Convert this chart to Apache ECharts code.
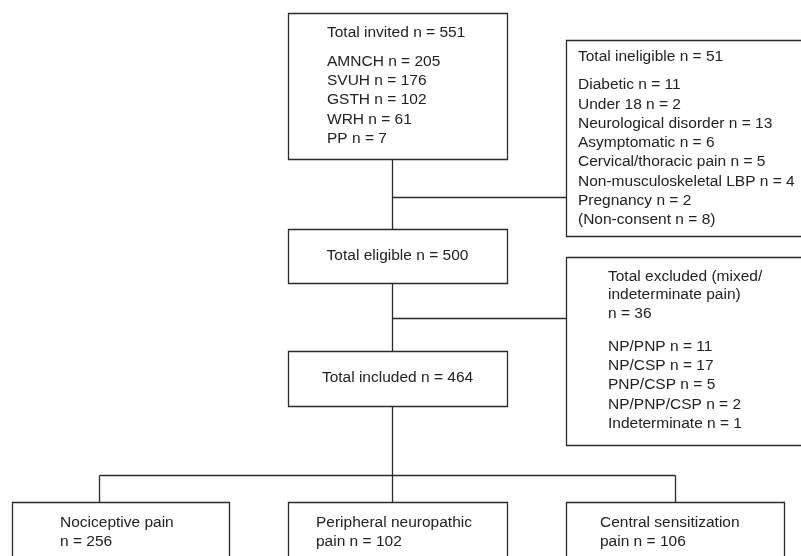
<!DOCTYPE html>
<html>
<head>
<meta charset="utf-8">
<style>
html,body{margin:0;padding:0;background:#fff;}
#chart{width:801px;height:556px;}
</style>
<script src="https://cdn.jsdelivr.net/npm/echarts@6/dist/echarts.min.js"></script>
</head>
<body>
<div id="chart"></div>
<script>
// ---- Content (text / values) ----
const invitedHeader = ["Total invited n = 551"];
const invitedSites = ["AMNCH n = 205", "SVUH n = 176", "GSTH n = 102", "WRH n = 61", "PP n = 7"];
const ineligibleHeader = ["Total ineligible n = 51"];
const ineligibleReasons = ["Diabetic n = 11", "Under 18 n = 2", "Neurological disorder n = 13", "Asymptomatic n = 6",
  "Cervical/thoracic pain n = 5", "Non-musculoskeletal LBP n = 4", "Pregnancy n = 2", "(Non-consent n = 8)"];
const eligibleText = ["Total eligible n = 500"];
const excludedHeader = ["Total excluded (mixed/", "indeterminate pain)", "n = 36"];
const excludedGroups = ["NP/PNP n = 11", "NP/CSP n = 17", "PNP/CSP n = 5", "NP/PNP/CSP n = 2", "Indeterminate n = 1"];
const includedText = ["Total included n = 464"];
const outcomeNociceptive = ["Nociceptive pain", "n = 256"];
const outcomePeripheral = ["Peripheral neuropathic", "pain n = 102"];
const outcomeCentral = ["Central sensitization", "pain n = 106"];

// ---- Layout (positions in layout units, mapped through hidden axes) ----
const layout = {
  boxes: [
    [288, 13, 507, 159],
    [566, 40, 805, 236],
    [288, 229, 507, 283],
    [566, 257, 805, 445],
    [288, 351, 507, 406],
    [12, 502, 229, 565],
    [288, 502, 507, 565],
    [566, 502, 784, 565]
  ],
  links: [
    [392, 159, 392, 229],
    [392, 197, 566, 197],
    [392, 283, 392, 351],
    [392, 318, 566, 318],
    [392, 406, 392, 502],
    [99, 475, 675, 475],
    [99, 475, 99, 502],
    [675, 475, 675, 502]
  ],
  // [lines, x, yFirst, step, align]
  blocks: [
    [invitedHeader, 327, 33, 19.2, 'left'],
    [invitedSites, 327, 62, 19.1, 'left'],
    [ineligibleHeader, 578, 57, 19.2, 'left'],
    [ineligibleReasons, 578, 85, 19.25, 'left'],
    [eligibleText, 397.5, 256, 19, 'center'],
    [excludedHeader, 608, 277, 18.2, 'left'],
    [excludedGroups, 608, 347, 19.1, 'left'],
    [includedText, 397.5, 378, 19, 'center'],
    [outcomeNociceptive, 60, 523, 19, 'left'],
    [outcomePeripheral, 316, 523, 19, 'left'],
    [outcomeCentral, 600, 523, 19, 'left']
  ]
};

const textItems = [];
layout.blocks.forEach(function (b) {
  b[0].forEach(function (t, i) {
    textItems.push({ value: [b[1], b[2] + i * b[3]], label: t, align: b[4] });
  });
});

const LINE = '#2a2a2a';
const TEXT = '#222';
const chart = echarts.init(document.getElementById('chart'), null, { renderer: 'canvas' });

function snap(v) { return Math.round(v) + 0.5; }

chart.setOption({
  animation: false,
  backgroundColor: '#fff',
  grid: { left: 0, right: 0, top: 0, bottom: 0 },
  xAxis: { type: 'value', min: 0, max: 801, show: false },
  yAxis: { type: 'value', min: 0, max: 556, inverse: true, show: false },
  series: [
    {
      type: 'custom',
      clip: false,
      data: layout.links,
      encode: { x: [0, 2], y: [1, 3] },
      renderItem: function (params, api) {
        const a = api.coord([api.value(0), api.value(1)]);
        const b = api.coord([api.value(2), api.value(3)]);
        return {
          type: 'line',
          shape: { x1: snap(a[0]), y1: snap(a[1]), x2: snap(b[0]), y2: snap(b[1]) },
          style: { stroke: LINE, lineWidth: 1.3 }
        };
      }
    },
    {
      type: 'custom',
      clip: false,
      data: layout.boxes,
      encode: { x: [0, 2], y: [1, 3] },
      renderItem: function (params, api) {
        const a = api.coord([api.value(0), api.value(1)]);
        const b = api.coord([api.value(2), api.value(3)]);
        return {
          type: 'rect',
          shape: { x: snap(a[0]), y: snap(a[1]), width: Math.round(b[0] - a[0]), height: Math.round(b[1] - a[1]) },
          style: { fill: '#fff', stroke: LINE, lineWidth: 1.3 }
        };
      }
    },
    {
      type: 'custom',
      clip: false,
      data: textItems,
      encode: { x: 0, y: 1 },
      renderItem: function (params, api) {
        const it = textItems[params.dataIndex];
        const p = api.coord(it.value);
        return {
          type: 'text',
          x: p[0], y: p[1],
          style: {
            text: it.label,
            fill: TEXT,
            fontSize: 15.5,
            fontFamily: 'Liberation Sans, Arial, sans-serif',
            align: it.align,
            verticalAlign: 'middle'
          }
        };
      }
    }
  ]
});
</script>
</body>
</html>
